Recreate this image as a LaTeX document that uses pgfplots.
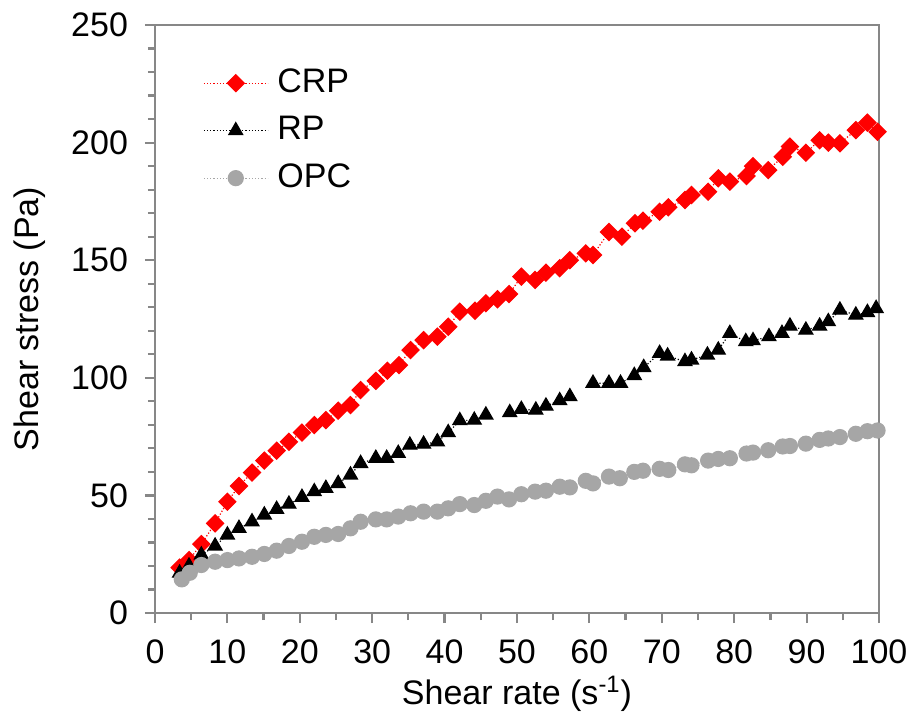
\documentclass[border=0pt]{standalone}
\usepackage{fontspec}
\setmainfont{Liberation Sans}
\usepackage{pgfplots}
\pgfplotsset{compat=1.18}
\definecolor{opcgray}{HTML}{A6A6A6}
\definecolor{framegray}{HTML}{878787}
\begin{document}
\begin{tikzpicture}
\begin{axis}[
  scale only axis,
  width=362pt, height=294pt,
  xmin=0, xmax=100, ymin=0, ymax=250,
  xtick={0,10,...,100}, ytick={0,50,...,250},
  minor x tick num=1, minor y tick num=4,
  xtick pos=bottom, ytick pos=left,
  tick align=outside,
  major tick length=5pt, minor tick length=3.5pt,
  axis line style={framegray, line width=1.4pt},
  every tick/.style={framegray, line width=1.1pt},
  tick label style={font=\fontsize{17}{20}\selectfont},
  xticklabel style={yshift=-5pt},
  yticklabel style={xshift=-5pt},
  /pgf/number format/assume math mode=true,
  xlabel={Shear rate (s\textsuperscript{-1})},
  ylabel={Shear stress (Pa)},
  label style={font=\fontsize{17}{20}\selectfont},
  xlabel style={yshift=1pt},
  ylabel style={yshift=6pt},
  unbounded coords=jump,
  legend style={at={(axis description cs:0.066,0.929)}, anchor=north west,
    draw=none, fill=none, font=\fontsize{17}{20}\selectfont, inner sep=0pt,
    nodes={inner sep=0pt, text height=12.5pt, text depth=3.5pt},
    row sep=7.75pt, column sep=4.5pt, legend cell align=left},
  legend image code/.code={
    \draw[mark repeat=2, mark phase=2] plot coordinates {(0pt,0pt)(16pt,0pt)(32pt,0pt)};
  },
]
\addplot[red, densely dotted, line width=0.6pt, mark=square*,
  mark options={solid, fill=red, draw=red, rotate=45, mark size=3pt}]
coordinates {
(3.4,19.3)(4.7,22.5)(6.4,29.3)(8.3,38.1)(10,47.3)(11.6,54)(13.4,59.7)(15.1,64.8)
(16.8,69)(18.5,72.8)(20.3,76.7)(22,79.9)(23.6,82)(25.3,86)(27,88.4)(28.4,94.8)
(30.5,98.7)(32.1,103)(33.7,105.4)(35.3,111.8)(37.1,116)(39,117.5)(40.5,121.7)
(42.1,128.1)(44.2,128.5)(45.7,131.7)(47.3,133.4)(48.9,135.6)(50.6,143)(52.5,141.6)
(54,144.7)(55.9,146.6)(57.3,150)(59.5,152.9)(60.5,152.2)(62.7,162)(64.5,160)
(66.3,165.7)(67.4,166.8)(69.7,170.6)(70.9,172.5)(73.2,175.6)(74.1,177.7)(76.4,179.1)
(77.8,184.8)(79.4,183.4)(81.7,185.8)(82.6,190)(84.7,188.3)(86.7,194)(87.7,198.3)
(89.9,195.7)(91.8,201)(93,200)(94.6,199.7)(96.8,205.3)(98.4,208.5)(99.8,204.6)
};
\addlegendentry{CRP}
\addplot[black, densely dotted, line width=0.6pt, mark=triangle*,
  mark options={solid, fill=black, draw=black, mark size=4pt}]
coordinates {
(3.4,17)(4.7,20)(6.4,24.7)(8.3,28.5)(10,33.2)(11.6,36)(13.4,38.8)(15.1,41.7)
(16.8,44.1)(18.5,46.3)(20.3,49.2)(22,51.6)(23.6,53)(25.3,55.1)(27,58.7)(28.4,63.6)
(30.5,65.8)(32,65.8)(33.6,67.9)(35.2,71.4)(37.1,71.8)(39,72.8)(40.5,76.7)
(42.1,81.8)(44.1,82)(45.7,84.2)(47.3,nan)(49,85.2)(50.6,86.6)(52.6,86.3)(54,88)
(55.9,90.3)(57.3,92)(59,nan)(60.5,97.7)(62.7,97.7)(64.3,97.7)(66.2,101)(67.5,104.4)
(69.7,110.4)(70.8,109.3)(73.2,106.9)(74.1,107.6)(76.3,109.7)(77.8,111.8)(79.4,118.9)
(81.6,115.4)(82.6,115.8)(84.8,117.5)(86.6,118.9)(87.7,122)(89.9,120.3)(91.8,122)
(93,123.9)(94.6,128.8)(96.8,126.7)(98.4,127.8)(99.6,129.5)
};
\addlegendentry{RP}
\addplot[opcgray, densely dotted, line width=0.6pt, mark=*,
  mark options={solid, fill=opcgray, draw=opcgray, mark size=3.75pt}]
coordinates {
(3.7,14.3)(4.8,17.1)(6.4,20.4)(8.3,21.8)(10,22.5)(11.6,23.2)(13.4,23.9)(15.1,25.1)
(16.8,26.5)(18.5,28.5)(20.3,30.3)(22,32.4)(23.6,33.2)(25.3,33.6)(27,36)(28.4,38.8)
(30.5,39.8)(32,39.8)(33.6,41)(35.3,42.4)(37.1,43.1)(39,43.1)(40.5,44.5)(42.1,46.3)
(44.1,45.9)(45.7,47.7)(47.3,49.5)(48.9,48.3)(50.6,50.5)(52.5,51.6)(54,52)(55.9,53.7)
(57.3,53.4)(59.5,56.2)(60.5,55.1)(62.7,58)(64.2,57.3)(66.2,60)(67.4,60.5)(69.7,61.3)
(70.9,60.8)(73.2,63.2)(74.1,62.8)(76.4,64.8)(77.8,65.5)(79.4,65.8)(81.7,67.8)
(82.6,68.2)(84.7,69.2)(86.7,70.8)(87.7,71)(89.9,72)(91.8,73.6)(93,74.2)(94.6,74.8)
(96.8,76.2)(98.4,77.3)(99.8,77.6)
};
\addlegendentry{OPC}
\end{axis}
\pgfresetboundingbox
\path[use as bounding box] ([xshift=-77.5pt,yshift=-53pt]current axis.south west)
  rectangle ([xshift=16.5pt,yshift=12.5pt]current axis.north east);
\end{tikzpicture}
\end{document}
